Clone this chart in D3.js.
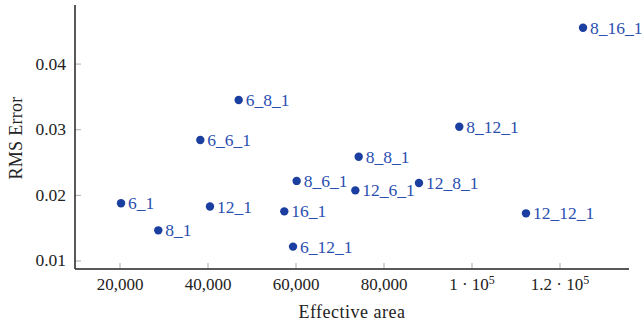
<!DOCTYPE html>
<html>
<head>
<meta charset="utf-8">
<script src="https://cdn.jsdelivr.net/npm/d3@7"></script>
<style>
  body { margin: 0; background: #fff; }
</style>
</head>
<body>
<svg width="644" height="326" font-family="'Liberation Serif', 'Times New Roman', 'DejaVu Serif', serif"></svg>
<script>
// configs and measured values
let names = ["6_1", "8_1", "12_1", "16_1", "6_6_1", "6_8_1", "6_12_1", "8_6_1", "8_8_1",
  "8_12_1", "8_16_1", "12_6_1", "12_8_1", "12_12_1"];
let area = [20230, 28700, 40450, 57340, 38250, 46970, 59320, 60150, 74250,
  97110, 125230, 73480, 87950, 112270];
let rmsError = [0.0188, 0.01467, 0.0183, 0.01756, 0.02843, 0.03452, 0.01219, 0.0222, 0.02589,
  0.03046, 0.04553, 0.02076, 0.02189, 0.01726];
let xTicks = [20000, 40000, 60000, 80000, 100000, 120000];
let xTickLabels = ["20,000", "40,000", "60,000", "80,000", "1 · 10^5", "1.2 · 10^5"];
let yTicks = [0.01, 0.02, 0.03, 0.04];

let svg = d3.select("svg");
let blue = "#1b3fa0";

let x = d3.scaleLinear().domain([9770, 135680]).range([75, 629]);
let y = d3.scaleLinear().domain([0.00878, 0.049]).range([269, 5]);

// ticks (inward, gray)
svg.append('g')
  .selectAll('line')
  .data(xTicks)
  .enter().append('line')
  .attr('x1', d => x(d)).attr('x2', d => x(d))
  .attr('y1', y.range()[0]).attr('y2', y.range()[0] - 6)
  .attr('stroke', '#999').attr('stroke-width', 0.8);

svg.append('g')
  .selectAll('line')
  .data(yTicks)
  .enter().append('line')
  .attr('x1', x.range()[0]).attr('x2', x.range()[0] + 6)
  .attr('y1', d => y(d)).attr('y2', d => y(d))
  .attr('stroke', '#999').attr('stroke-width', 0.8);

// axis lines
svg.append('line')
  .attr('x1', x.range()[0]).attr('x2', x.range()[0])
  .attr('y1', y.range()[1]).attr('y2', y.range()[0])
  .attr('stroke', '#222').attr('stroke-width', 1.5);
svg.append('line')
  .attr('x1', x.range()[0]).attr('x2', x.range()[1])
  .attr('y1', y.range()[0]).attr('y2', y.range()[0])
  .attr('stroke', '#222').attr('stroke-width', 1.5);

// tick labels
let xl = svg.append('g')
  .selectAll('text')
  .data(xTicks)
  .enter().append('text')
  .attr('x', d => x(d))
  .attr('y', 290)
  .attr('text-anchor', 'middle')
  .attr('font-size', 17)
  .attr('fill', '#222');
xl.each(function (d, i) {
  let parts = xTickLabels[i].split('^');
  let t = d3.select(this);
  t.append('tspan').text(parts[0]);
  if (parts[1]) {
    t.append('tspan').attr('font-size', 12).attr('dy', -6).text(parts[1]);
  }
});

svg.append('g')
  .selectAll('text')
  .data(yTicks)
  .enter().append('text')
  .attr('x', 66)
  .attr('y', d => y(d) + 5.5)
  .attr('text-anchor', 'end')
  .attr('font-size', 17.5)
  .attr('fill', '#222')
  .text(d => d.toFixed(2));

// axis titles
svg.append('text')
  .attr('x', 352)
  .attr('y', 318)
  .attr('text-anchor', 'middle')
  .attr('font-size', 18)
  .attr('letter-spacing', 0.5)
  .attr('fill', '#222')
  .text('Effective area');

svg.append('text')
  .attr('transform', 'translate(22,138) rotate(-90)')
  .attr('text-anchor', 'middle')
  .attr('font-size', 18)
  .attr('letter-spacing', 0.3)
  .attr('fill', '#222')
  .text('RMS Error');

// points
let pts = svg.append('g')
  .selectAll('g')
  .data(names)
  .enter().append('g');

pts.append('circle')
  .attr('cx', (d, i) => x(area[i]))
  .attr('cy', (d, i) => y(rmsError[i]))
  .attr('r', 4.2)
  .attr('fill', blue);

pts.append('text')
  .attr('x', (d, i) => x(area[i]) + 7)
  .attr('y', (d, i) => y(rmsError[i]) + 6)
  .attr('font-size', 17.5)
  .attr('fill', '#2a4fb0')
  .text(d => d);
</script>
</body>
</html>
